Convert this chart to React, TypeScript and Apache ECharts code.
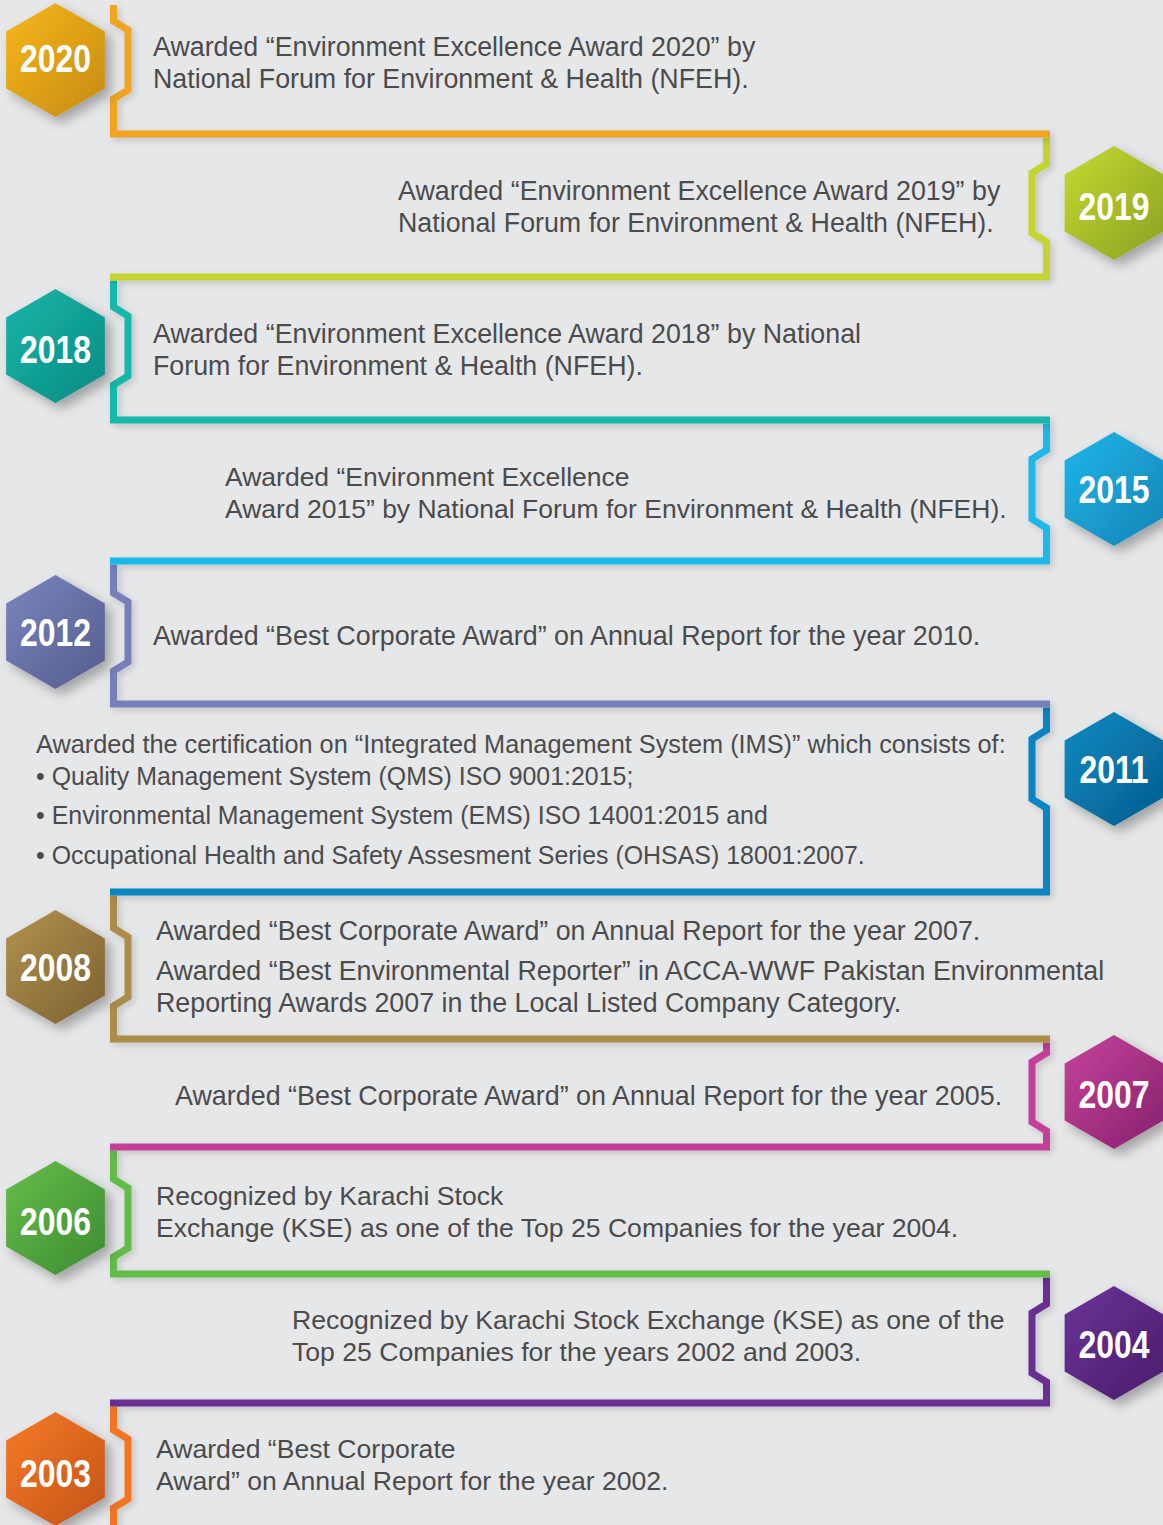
import React, { useEffect, useRef } from "react";
import * as echarts from "echarts";

// ---- data ----
const years = ["2020", "2019", "2018", "2015", "2012", "2011", "2008", "2007", "2006", "2004", "2003"];
const sides = ["left", "right", "left", "right", "left", "right", "left", "right", "left", "right", "left"];
const lineColors = ["#f1a424", "#c3d52e", "#19b8ab", "#1db8ea", "#7480ba", "#0784c2", "#ac8c4a", "#c2409a", "#64bb48", "#692f91", "#f37422"];
const hexLight = ["#f7b71c", "#c6da30", "#17b5a8", "#1fb6ea", "#7986bd", "#0a8ac4", "#b2924f", "#c6439b", "#67bd49", "#6c3398", "#f67b24"];
const hexDark = ["#c58b12", "#8ba123", "#0b8b84", "#1684b5", "#545c8e", "#055d8c", "#7c6131", "#86216d", "#3d8b32", "#491d6b", "#c4531a"];
const descriptions: string[][] = [
  ["Awarded “Environment Excellence Award 2020” by", "National Forum for Environment & Health (NFEH)."],
  ["Awarded “Environment Excellence Award 2019” by", "National Forum for Environment & Health (NFEH)."],
  ["Awarded “Environment Excellence Award 2018” by National", "Forum for Environment & Health (NFEH)."],
  ["Awarded “Environment Excellence", "Award 2015” by National Forum for Environment & Health (NFEH)."],
  ["Awarded “Best Corporate Award” on Annual Report for the year 2010."],
  [
    "Awarded the certification on “Integrated Management System (IMS)” which consists of:",
    "• Quality Management System (QMS) ISO 9001:2015;",
    "• Environmental Management System (EMS) ISO 14001:2015 and",
    "• Occupational Health and Safety Assesment Series (OHSAS) 18001:2007.",
  ],
  [
    "Awarded “Best Corporate Award” on Annual Report for the year 2007.",
    "Awarded “Best Environmental Reporter” in ACCA-WWF Pakistan Environmental",
    "Reporting Awards 2007 in the Local Listed Company Category.",
  ],
  ["Awarded “Best Corporate Award” on Annual Report for the year 2005."],
  ["Recognized by Karachi Stock", "Exchange (KSE) as one of the Top 25 Companies for the year 2004."],
  ["Recognized by Karachi Stock Exchange (KSE) as one of the", "Top 25 Companies for the years 2002 and 2003."],
  ["Awarded “Best Corporate", "Award” on Annual Report for the year 2002."],
];

// ---- layout ----
const W = 1163;
const H = 1525;
const BG = "#e6e7e8";
const TEXT = "#4b4b4d";
const hLineY = [134, 277, 420, 561, 704, 892, 1039, 1147, 1274, 1403];
const hexCY = [60, 203, 346, 489, 632, 769, 967, 1092, 1218, 1343, 1469];
const labelY = [58, 206, 349, 489, 632, 769, 967, 1094, 1221, 1344, 1473];
const textX = [153, 398, 153, 225, 153, 36, 156, 175, 156, 292, 156];
const textYs: number[][] = [
  [47, 79], [191, 223], [334, 366], [477, 509], [636],
  [744, 776, 815, 855], [931, 971, 1003], [1096], [1196, 1228], [1320, 1352], [1449, 1481],
];
const textSize = [26.8, 26.8, 26.8, 26.5, 26.9, 25.3, 26.8, 26.9, 26.6, 26.6, 26.6];
const bulletScale = 0.985;

const LW = 7;
const LEFT_X = 113.5;
const RIGHT_X = 1046.5;
const NOTCH = 14.5;
const HEX_R = 57;
const HEX_LX = 55.5;
const HEX_RX = 1114;

function hexPoints(cx: number, cy: number, r: number) {
  const pts: number[][] = [];
  for (let k = 0; k < 6; k++) {
    const a = ((-90 + 60 * k) * Math.PI) / 180;
    pts.push([cx + r * Math.cos(a), cy + r * Math.sin(a)]);
  }
  return pts;
}

export default function App() {
  const ref = useRef<HTMLDivElement>(null);
  useEffect(() => {
    document.body.style.margin = "0";
    const chart = echarts.init(ref.current!, null, { renderer: "svg" });
    const lines: any[] = [];
    const hexes: any[] = [];
    const texts: any[] = [];

    years.forEach((yr, i) => {
      const left = sides[i] === "left";
      const vx = left ? LEFT_X : RIGHT_X;
      const nx = left ? LEFT_X + NOTCH : RIGHT_X - NOTCH;
      const top = i === 0 ? 5 : hLineY[i - 1] + LW / 2;
      const bottom = i < hLineY.length ? hLineY[i] : H + 20;
      const c = hexCY[i];
      const pts: number[][] = [
        [vx, top],
        [vx, c - 39],
        [nx, c - 30],
        [nx, c + 30],
        [vx, c + 39],
        [vx, bottom],
      ];
      if (i < hLineY.length) {
        pts.push([left ? RIGHT_X + LW / 2 : LEFT_X - LW / 2, bottom]);
      }
      lines.push({
        type: "polyline",
        z: 10 - i * 0.1,
        shape: { points: pts },
        style: {
          stroke: lineColors[i],
          lineWidth: LW,
          fill: null,
          lineJoin: "miter",
          lineCap: "butt",
          shadowBlur: 7,
          shadowOffsetX: 3,
          shadowOffsetY: 3,
          shadowColor: "rgba(0,0,0,0.16)",
        },
      });

      const hx = left ? HEX_LX : HEX_RX;
      hexes.push({
        type: "polygon",
        z: 20,
        shape: { points: hexPoints(hx, c, HEX_R) },
        style: {
          fill: new echarts.graphic.LinearGradient(0, 0, 1, 1, [
            { offset: 0, color: hexLight[i] },
            { offset: 1, color: hexDark[i] },
          ]),
          shadowBlur: 12,
          shadowOffsetX: 6,
          shadowOffsetY: 6,
          shadowColor: "rgba(0,0,0,0.3)",
        },
      });
      hexes.push({
        type: "text",
        z: 21,
        x: hx,
        y: labelY[i],
        scaleX: 0.84,
        style: {
          text: yr,
          fill: "#ffffff",
          fontSize: 38,
          fontWeight: "bold",
          fontFamily: "Liberation Sans, Arial, sans-serif",
          align: "center",
          verticalAlign: "middle",
          textAlign: "center",
          textVerticalAlign: "middle",
        },
      });

      descriptions[i].forEach((line, j) => {
        const isBullet = line.startsWith("•");
        texts.push({
          type: "text",
          z: 30,
          x: textX[i],
          y: textYs[i][j],
          scaleX: isBullet ? bulletScale : 1,
          style: {
            text: line,
            fill: TEXT,
            fontSize: textSize[i],
            fontFamily: "Liberation Sans, Arial, sans-serif",
            align: "left",
            verticalAlign: "middle",
            textAlign: "left",
            textVerticalAlign: "middle",
          },
        });
      });
    });

    chart.setOption({
      animation: false,
      backgroundColor: BG,
      graphic: { elements: [...lines, ...hexes, ...texts] },
    });
    return () => chart.dispose();
  }, []);
  return <div ref={ref} style={{ width: W, height: H }} />;
}
